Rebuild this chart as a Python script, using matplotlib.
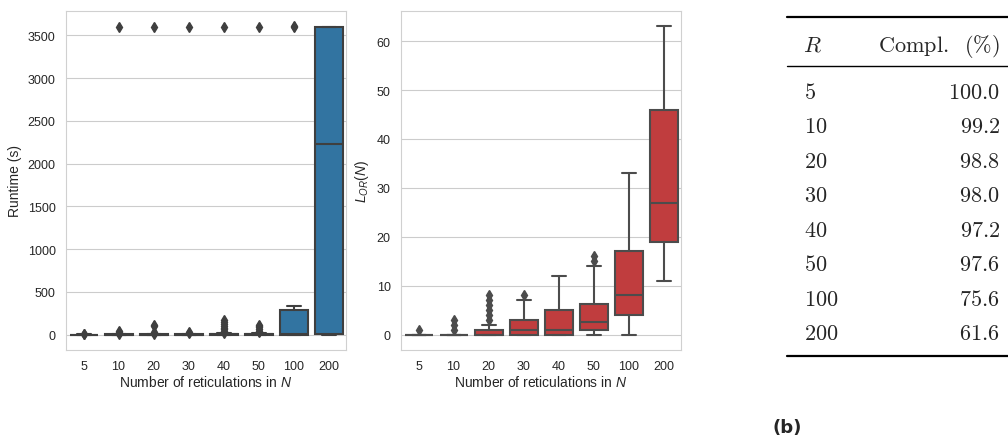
import matplotlib
matplotlib.use("Agg")
import matplotlib.pyplot as plt
import seaborn as sns

# categories (number of reticulations)
categorias = ["5", "10", "20", "30", "40", "50", "100", "200"]

# runtime boxplot stats (s)
rt_q1 = [0, 0, 0, 0, 0, 0, 0, 10]
rt_med = [0, 0, 1, 1, 2, 2, 5, 2230]
rt_q3 = [1, 2, 3, 4, 6, 7, 290, 3600]
rt_wlo = [0, 0, 0, 0, 0, 0, 0, 0]
rt_whi = [2, 4, 7, 9, 14, 17, 330, 3600]
rt_fliers = [
    [5, 12],
    [10, 25, 40, 3600],
    [12, 30, 95, 115, 3600],
    [15, 30, 3600],
    [20, 40, 60, 80, 100, 120, 145, 165, 3600],
    [25, 45, 65, 85, 100, 115, 3600],
    [3595, 3605],
    [],
]

# L_OR(N) boxplot stats
lo_q1 = [0, 0, 0, 0, 0, 1, 4, 19]
lo_med = [0, 0, 0, 1, 1, 2.5, 8, 27]
lo_q3 = [0, 0, 1, 3, 5, 6.25, 17, 46]
lo_wlo = [0, 0, 0, 0, 0, 0, 0, 11]
lo_whi = [0, 0, 2, 7, 12, 14, 33, 63]
lo_fliers = [
    [1],
    [1, 2, 3],
    [3, 4, 5, 6, 7, 8],
    [8],
    [],
    [15, 16],
    [],
    [],
]

# completion table
tabla_R = ["5", "10", "20", "30", "40", "50", "100", "200"]
tabla_compl = ["100.0", "99.2", "98.8", "98.0", "97.2", "97.6", "75.6", "61.6"]

sns.set_style("whitegrid")
plt.rcParams["font.family"] = ["Liberation Sans", "DejaVu Sans"]
plt.rcParams["mathtext.fontset"] = "custom"
plt.rcParams["mathtext.it"] = "Liberation Sans:italic"
plt.rcParams["mathtext.rm"] = "Liberation Sans"

W, H = 1008, 439
fig = plt.figure(figsize=(W / 100, H / 100), dpi=100)

def px_axes(x0, y0, x1, y1):
    return fig.add_axes([x0 / W, 1 - y1 / H, (x1 - x0) / W, (y1 - y0) / H])

def dibujar_box(ax, q1, med, q3, wlo, whi, fliers, color, gris):
    stats = []
    for i in range(len(q1)):
        stats.append(dict(q1=q1[i], med=med[i], q3=q3[i], whislo=wlo[i],
                          whishi=whi[i], fliers=fliers[i]))
    lw = 1.5
    ax.bxp(stats, positions=range(len(stats)), widths=0.8, patch_artist=True,
           boxprops=dict(facecolor=color, edgecolor=gris, linewidth=lw),
           medianprops=dict(color=gris, linewidth=lw),
           whiskerprops=dict(color=gris, linewidth=lw),
           capprops=dict(color=gris, linewidth=lw),
           flierprops=dict(marker="d", markerfacecolor=gris, markeredgecolor=gris,
                           markersize=5, linestyle="none"),
           manage_ticks=False)
    ax.set_xticks(range(len(categorias)))
    ax.set_xticklabels(categorias)
    ax.set_xlim(-0.5, len(categorias) - 0.5)
    ax.grid(axis="x", visible=False)
    ax.tick_params(labelsize=9, colors="#262626", pad=4)
    for s in ax.spines.values():
        s.set_color("#d0d0d0")
    ax.set_xlabel("Number of reticulations in $N$", fontsize=10, color="#262626", labelpad=1)

ax1 = px_axes(66, 12, 346, 351)
dibujar_box(ax1, rt_q1, rt_med, rt_q3, rt_wlo, rt_whi, rt_fliers, "#3274a1", "#3f3f3f")
ax1.set_yticks([0, 500, 1000, 1500, 2000, 2500, 3000, 3500])
ax1.set_ylabel("Runtime (s)", fontsize=10, color="#262626")

ax2 = px_axes(401, 12, 681, 351)
dibujar_box(ax2, lo_q1, lo_med, lo_q3, lo_wlo, lo_whi, lo_fliers, "#c03d3e", "#4c4c4c")
ax2.set_yticks([0, 10, 20, 30, 40, 50, 60])
ax2.set_ylabel("$L_{OR}(N)$", fontsize=10, color="#262626")

# table drawn in pixel coordinates
axt = fig.add_axes([0, 0, 1, 1])
axt.set_xlim(0, W)
axt.set_ylim(H, 0)
axt.axis("off")
axt.plot([787, 1008], [18, 18], color="black", linewidth=1.6)
axt.plot([787, 1008], [67, 67], color="black", linewidth=1.0)
axt.plot([787, 1008], [357, 357], color="black", linewidth=1.6)
fs = 16
axt.text(803, 52, "$R$", fontsize=fs, math_fontfamily="cm", va="baseline", ha="left")
axt.text(1000, 52, r"$\mathrm{Compl.\ \;(\%)}$", fontsize=fs, math_fontfamily="cm",
         va="baseline", ha="right")
for i in range(len(tabla_R)):
    yb = 99 + i * 34.5
    axt.text(804, yb, "$" + tabla_R[i] + "$", fontsize=fs, math_fontfamily="cm",
             va="baseline", ha="left")
    axt.text(1000, yb, "$" + tabla_compl[i] + "$", fontsize=fs, math_fontfamily="cm",
             va="baseline", ha="right")

axt.text(773, 428, "(b)", fontsize=13, fontweight="bold", family="DejaVu Sans",
         va="center", ha="left")

fig.savefig("out.png", dpi=100)
